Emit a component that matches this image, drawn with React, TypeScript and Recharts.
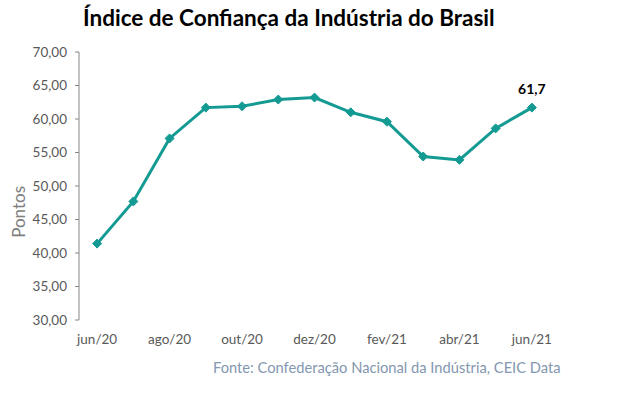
import React from 'react'
import { LineChart, Line, XAxis, YAxis } from 'recharts'

const months = [
  'jun/20', 'jul/20', 'ago/20', 'set/20', 'out/20', 'nov/20', 'dez/20',
  'jan/21', 'fev/21', 'mar/21', 'abr/21', 'mai/21', 'jun/21',
]
const icei = [41.4, 47.7, 57.1, 61.7, 61.9, 62.9, 63.2, 61.0, 59.6, 54.4, 53.9, 58.6, 61.7]
const yTicks = [30, 35, 40, 45, 50, 55, 60, 65, 70]
// category boundaries get the tick marks, every other category gets a label
const boundaryTicks = [0, 2, 4, 6, 8, 10, 12]
const labelTicks = [0.5, 2.5, 4.5, 6.5, 8.5, 10.5, 12.5]

const data = months.map((m, i) => ({ pos: i + 0.5, month: m, value: icei[i] }))

const TEAL = '#139a93'
const FONT = 'Lato, "Open Sans", sans-serif'

const Diamond = (props: any) => {
  const { cx, cy } = props
  if (cx == null || cy == null) return null
  const r = 4.5
  return (
    <polygon
      points={`${cx},${cy - r} ${cx + r},${cy} ${cx},${cy + r} ${cx - r},${cy}`}
      fill={TEAL}
      stroke={TEAL}
    />
  )
}

const LastLabel = (props: any) => {
  const { x, y, index, value } = props
  if (index !== icei.length - 1) return null
  return (
    <text x={x} y={y - 14} textAnchor="middle" fontSize={14} fontWeight={700} fill="#000" fontFamily={FONT}>
      {String(value).replace('.', ',')}
    </text>
  )
}

export default function App() {
  return (
    <div style={{ position: 'absolute', left: 0, top: 0, width: 624, height: 393, background: '#fff', fontFamily: FONT }}>
      <div style={{ position: 'absolute', left: 83, top: 4, fontSize: 22.5, fontWeight: 700, color: '#000', whiteSpace: 'nowrap' }}>
        Índice de Confiança da Indústria do Brasil
      </div>
      <LineChart width={624} height={393} data={data} margin={{ top: 52, right: 74, bottom: 43, left: 19 }}>
        <XAxis
          xAxisId="marks"
          type="number"
          dataKey="pos"
          domain={[0, 13]}
          ticks={boundaryTicks}
          tick={false}
          tickSize={5}
          height={0}
          axisLine={{ stroke: '#868686' }}
          tickLine={{ stroke: '#868686' }}
        />
        <XAxis
          xAxisId="labels"
          type="number"
          dataKey="pos"
          domain={[0, 13]}
          ticks={labelTicks}
          tickFormatter={(v: number) => months[Math.round(v - 0.5)]}
          axisLine={false}
          tickLine={false}
          tickMargin={8}
          height={30}
          interval={0}
          tick={{ fontSize: 13.5, fill: '#595959', fontFamily: FONT }}
        />
        <YAxis
          domain={[30, 70]}
          ticks={yTicks}
          width={60}
          tickSize={4}
          tickMargin={8}
          interval={0}
          tickFormatter={(v: number) => v.toFixed(2).replace('.', ',')}
          axisLine={{ stroke: '#868686' }}
          tickLine={{ stroke: '#868686' }}
          tick={{ fontSize: 13.5, fill: '#595959', fontFamily: FONT }}
          label={{ value: 'Pontos', angle: -90, position: 'left', offset: 0, fontSize: 17, fill: '#7f7f7f', fontFamily: FONT }}
        />
        <Line
          xAxisId="marks"
          dataKey="value"
          stroke={TEAL}
          strokeWidth={3}
          dot={<Diamond />}
          activeDot={false}
          label={<LastLabel />}
          isAnimationActive={false}
        />
      </LineChart>
      <div style={{ position: 'absolute', left: 213, top: 358, fontSize: 14.7, color: '#8497b0', whiteSpace: 'nowrap' }}>
        Fonte: Confederação Nacional da Indústria, CEIC Data
      </div>
    </div>
  )
}
